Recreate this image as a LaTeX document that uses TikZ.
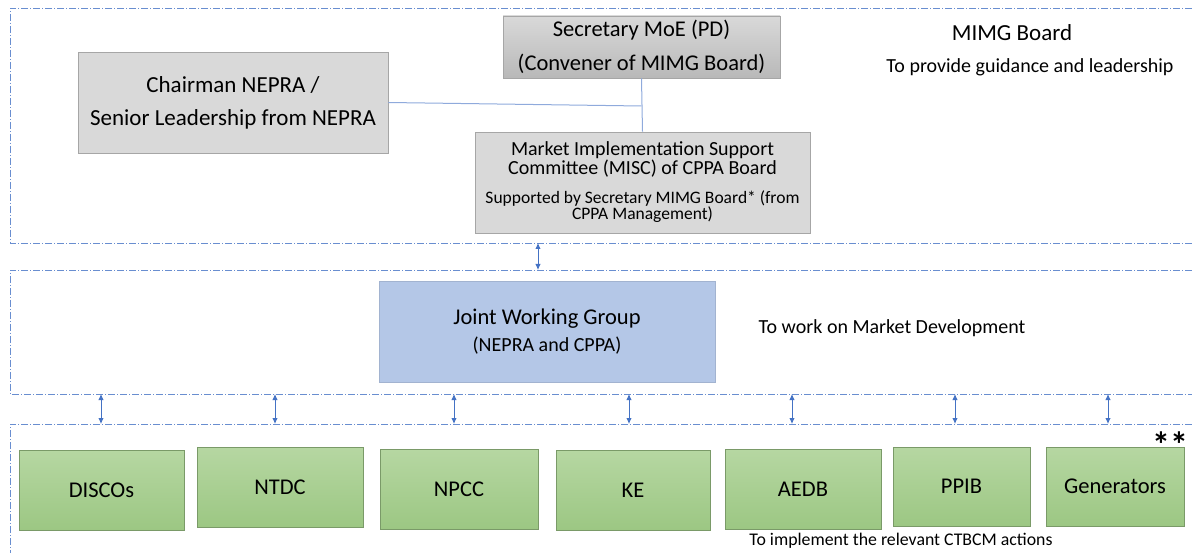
\documentclass[tikz,border=0pt]{standalone}
\usepackage{fontspec}
\setmainfont{Carlito}
\usetikzlibrary{arrows.meta}
\definecolor{frameblue}{HTML}{4472C4}
\definecolor{linkblue}{HTML}{8FAADC}
\definecolor{jwgblue}{HTML}{B4C7E7}
\definecolor{boxgray}{HTML}{D9D9D9}
\definecolor{boxedge}{HTML}{A6A6A6}
\definecolor{greentop}{HTML}{B6D7A2}
\definecolor{greenbot}{HTML}{9CC783}
\definecolor{greenedge}{HTML}{7A9A68}
\begin{document}
\begin{tikzpicture}[x=1pt,y=-1pt,
  frame/.style={draw=frameblue!80, line width=0.8pt, dash pattern=on 7pt off 2pt on 1pt off 2pt},
  graybox/.style={draw=boxedge, fill=boxgray, line width=0.8pt, inner sep=0pt, align=center},
  secbox/.style={draw=boxedge, top color=boxgray, bottom color=boxgray!85!black, line width=0.8pt, inner sep=0pt, align=center},
  jwgbox/.style={fill=jwgblue, draw=jwgblue!90!black, line width=0.5pt, inner sep=0pt, align=center},
  greenbox/.style={draw=greenedge, top color=greentop, bottom color=greenbot, line width=0.8pt, inner sep=0pt, font=\fontsize{22.5}{26}\selectfont},
  link/.style={draw=linkblue, line width=1pt},
  dbl/.style={draw=frameblue, line width=0.9pt, {Latex[length=6pt,width=5.5pt]}-{Latex[length=6pt,width=5.5pt]}},
  note/.style={inner sep=0pt, align=center}
]
\useasboundingbox (0,0) rectangle (1192,553);
% frames
\draw[frame] (1192,8) -- (10,8) -- (10,243) -- (1192,243);
\draw[frame] (1192,270) -- (10,270) -- (10,394) -- (1192,394);
\draw[frame] (1192,424) -- (10,424) -- (10,553);
% top group
\node[secbox, minimum width=277pt, minimum height=62pt, font=\fontsize{22.5}{34}\selectfont] (sec) at (641.5,47) {Secretary MoE (PD)\\(Convener of MIMG Board)};
\node[graybox, minimum width=310pt, minimum height=101pt, font=\fontsize{23}{33}\selectfont] (chair) at (233,102.5) {Chairman NEPRA /\\Senior Leadership from NEPRA};
\node[graybox, minimum width=335pt, minimum height=101pt] (misc) at (642.5,182.5) {\fontsize{20}{22}\selectfont Market Implementation Support\\\fontsize{20}{22}\selectfont Committee (MISC) of CPPA Board\\[12pt]\fontsize{17.5}{19}\selectfont Supported by Secretary MIMG Board* (from\\\fontsize{17.5}{19}\selectfont CPPA Management)};
\coordinate (junc) at (sec.south |- 0,106);
\draw[link] (sec.south) -- (misc.north);
\draw[link] (chair.east) -- (junc);
\node[note, font=\fontsize{23}{26}\selectfont] (mimg) at (1012,33) {MIMG Board};
\node[note, font=\fontsize{20}{23}\selectfont] (guid) at (1030,67) {To provide guidance and leadership};
% middle group
\node[jwgbox, minimum width=336pt, minimum height=101pt] (jwg) at (547,331.5) {\fontsize{22.5}{26}\selectfont Joint Working Group\\[8pt]\fontsize{20}{22}\selectfont (NEPRA and CPPA)};
\node[note, font=\fontsize{20}{23}\selectfont] (work) at (892,328) {To work on Market Development};
% bottom boxes
\node[greenbox, minimum width=165pt, minimum height=80pt] (discos) at (101.5,490) {DISCOs};
\node[greenbox, minimum width=166pt, minimum height=80pt] (ntdc) at (280,487) {NTDC};
\node[greenbox, minimum width=158pt, minimum height=80pt] (npcc) at (459,489) {NPCC};
\node[greenbox, minimum width=154pt, minimum height=80pt] (ke) at (633,490) {KE};
\node[greenbox, minimum width=156pt, minimum height=80pt] (aedb) at (803,489) {AEDB};
\node[greenbox, minimum width=137pt, minimum height=79pt] (ppib) at (961.5,486.5) {PPIB};
\node[greenbox, minimum width=138pt, minimum height=79pt] (gen) at (1115,486.5) {Generators};
\node[note, font=\fontsize{36}{36}\selectfont\bfseries] (stars) at (1170,445) {**};
\node[note, font=\fontsize{17.8}{20}\selectfont] (impl) at (901,541) {To implement the relevant CTBCM actions};
% arrows between frames
\coordinate (t0) at (538,243); \coordinate (b0) at (538,270);
\draw[dbl] (t0) -- (b0);
\foreach \x [count=\i] in {101,275,454,629,792,955,1108} {
  \coordinate (t\i) at (\x,394);
  \coordinate (b\i) at (\x,424);
  \draw[dbl] (t\i) -- (b\i);
}
\end{tikzpicture}
\end{document}
